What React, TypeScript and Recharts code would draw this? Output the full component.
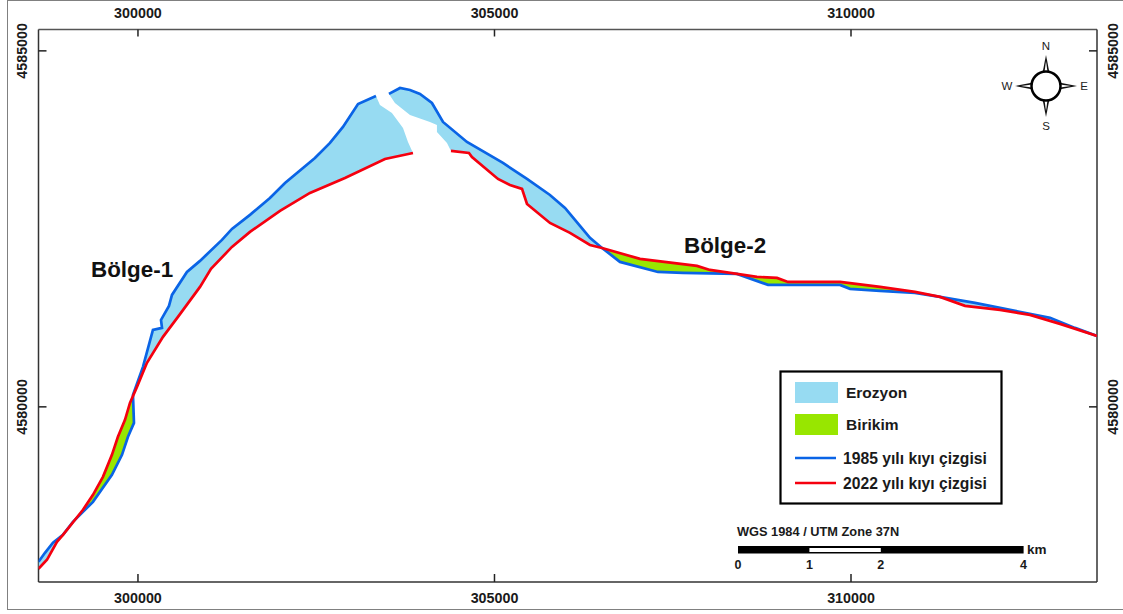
import React from 'react';
import { ComposedChart, Scatter, XAxis, YAxis } from 'recharts';

type Pt = [number, number];

const FONT = '"Liberation Sans", Arial, sans-serif';

// UTM coordinates
const xTicks = [300000, 305000, 310000];
const yTicks = [4580000, 4585000];
const xDomain = [298605, 313450];
const yDomain = [4577540, 4585300];

// 1985 shoreline, west part
const blueWest: Pt[] = [
  [298605, 4577824], [298696, 4577950], [298808, 4578091], [298948, 4578203], [299088, 4578385],
  [299369, 4578666], [299635, 4579045], [299776, 4579326], [299860, 4579579], [299944, 4579775],
  [299930, 4580168], [300070, 4580562], [300210, 4581081], [300337, 4581109], [300323, 4581221],
  [300435, 4581418], [300477, 4581572], [300687, 4581895], [300870, 4582050], [301178, 4582345],
  [301318, 4582499], [301571, 4582696], [301851, 4582934], [302062, 4583145], [302482, 4583496],
  [302693, 4583707], [302875, 4583931], [303086, 4584254], [303338, 4584366],
];

// 1985 shoreline, east part
const blueEast: Pt[] = [
  [303520, 4584395], [303675, 4584479], [303815, 4584451], [303955, 4584395], [304123, 4584268],
  [304278, 4584001], [304614, 4583721], [305119, 4583426], [305456, 4583201], [305778, 4582976],
  [305989, 4582794], [306199, 4582541], [306339, 4582373], [306508, 4582232], [306760, 4582036],
  [307293, 4581895], [307644, 4581881], [308401, 4581867], [308836, 4581713], [309846, 4581713],
  [309986, 4581657], [310407, 4581629], [310897, 4581601], [311248, 4581544], [311739, 4581460],
  [312230, 4581362], [312791, 4581250], [313141, 4581109], [313450, 4580997],
];

// 2022 shoreline, west part
const redWest: Pt[] = [
  [298605, 4577726], [298724, 4577852], [298864, 4578105], [298948, 4578203], [299229, 4578554],
  [299369, 4578764], [299509, 4579017], [299635, 4579326], [299719, 4579579], [299818, 4579817],
  [299888, 4580056], [299986, 4580281], [300126, 4580618], [300351, 4580983], [300561, 4581264],
  [300870, 4581685], [301024, 4581938], [301318, 4582246], [301571, 4582457], [301992, 4582752],
  [302412, 4583005], [302903, 4583215], [303464, 4583482], [303857, 4583566],
];

// 2022 shoreline, east part
const redEast: Pt[] = [
  [304390, 4583594], [304642, 4583566], [304684, 4583510], [305049, 4583201], [305217, 4583117],
  [305386, 4583061], [305456, 4582850], [305778, 4582583], [306059, 4582443], [306339, 4582274],
  [306508, 4582232], [307041, 4582078], [307840, 4581980], [308022, 4581923], [308401, 4581867],
  [308681, 4581825], [308962, 4581811], [309116, 4581755], [309846, 4581755], [310407, 4581685],
  [310897, 4581615], [311248, 4581544], [311599, 4581418], [312090, 4581362], [312510, 4581292],
  [312931, 4581165], [313450, 4580997],
];

// edges of the white gap at the cape
const gapWest: Pt[] = [[303394, 4584240], [303562, 4584128], [303717, 4583917], [303787, 4583721]];
const gapEast: Pt[] = [
  [303604, 4584268], [303815, 4584100], [304095, 4584001], [304193, 4583959], [304193, 4583861], [304334, 4583707],
];

const rev = (a: Pt[]) => [...a].reverse();

const erosionAreas: Pt[][] = [
  [...blueWest.slice(0, 4), ...rev(redWest.slice(0, 4))],
  [...blueWest.slice(10), ...gapWest, ...rev(redWest.slice(11))],
  [...blueEast.slice(0, 14), ...rev(redEast.slice(0, 11)), ...rev(gapEast)],
  [...blueEast.slice(23), ...rev(redEast.slice(21))],
];
const depositAreas: Pt[][] = [
  [...blueWest.slice(3, 11), ...rev(redWest.slice(3, 11))],
  [...blueEast.slice(13, 18), ...rev(redEast.slice(10, 15))],
  [...blueEast.slice(17, 24), ...rev(redEast.slice(14, 22))],
];

const toRows = (a: Pt[]) => a.map(([x, y]) => ({ x, y }));

const EROSION = '#97dbf2';
const DEPOSIT = '#98e600';
const BLUE = '#0a64e6';
const RED = '#f5000f';

const areaLegend = [
  { label: 'Erozyon', fill: EROSION },
  { label: 'Birikim', fill: DEPOSIT },
];
const lineLegend = [
  { label: '1985 yılı kıyı çizgisi', stroke: BLUE },
  { label: '2022 yılı kıyı çizgisi', stroke: RED },
];
const scaleKm = [0, 1, 2, 4];

const polygonLine = (fill: string) => (p: any) => (
  <polygon
    points={p.points.map((q: any) => `${q.x},${q.y}`).join(' ')}
    fill={fill}
    stroke="none"
  />
);

const noDot = () => <g />;

const tickStyle = { fontFamily: FONT, fontSize: 14.3, fontWeight: 700, fill: '#1a1a1a' };

function TopTick({ x, y, payload }: any) {
  return (
    <g>
      <line x1={x} x2={x} y1={y} y2={y + 7} stroke="#222" strokeWidth={1.5} />
      <text x={x} y={y - 12} textAnchor="middle" style={tickStyle}>{payload.value}</text>
    </g>
  );
}
function BottomTick({ x, y, payload }: any) {
  return (
    <g>
      <line x1={x} x2={x} y1={y} y2={y - 8} stroke="#222" strokeWidth={1.5} />
      <text x={x} y={y + 21} textAnchor="middle" style={tickStyle}>{payload.value}</text>
    </g>
  );
}
function LeftTick({ x, y, payload }: any) {
  return (
    <g>
      <line x1={x} x2={x + 8} y1={y} y2={y} stroke="#222" strokeWidth={1.5} />
      <text transform={`translate(${x - 12},${y}) rotate(-90)`} textAnchor="middle" style={tickStyle}>{payload.value}</text>
    </g>
  );
}
function RightTick({ x, y, payload }: any) {
  return (
    <g>
      <line x1={x} x2={x - 8} y1={y} y2={y} stroke="#222" strokeWidth={1.5} />
      <text transform={`translate(${x + 21},${y}) rotate(-90)`} textAnchor="middle" style={tickStyle}>{payload.value}</text>
    </g>
  );
}

function Compass() {
  const cx = 1046;
  const cy = 86;
  const spike = (a: number) => {
    return (
      <g key={a} transform={`rotate(${a} ${cx} ${cy})`}>
        <polygon points={`${cx},${cy - 31} ${cx - 3.5},${cy - 13} ${cx + 3.5},${cy - 13}`} fill="#111" />
        <polygon points={`${cx},${cy - 25} ${cx - 1.5},${cy - 14} ${cx + 1.5},${cy - 14}`} fill="#fff" />
      </g>
    );
  };
  const letter = { fontFamily: FONT, fontSize: 11.5, fill: '#222', textAnchor: 'middle' as const };
  return (
    <g>
      {[0, 90, 180, 270].map(spike)}
      <circle cx={cx} cy={cy} r={14.5} fill="#fff" stroke="#000" strokeWidth={2.5} />
      <text x={cx} y={50} {...letter}>N</text>
      <text x={cx} y={130} {...letter}>S</text>
      <text x={1084} y={90} {...letter}>E</text>
      <text x={1007} y={90} {...letter}>W</text>
    </g>
  );
}

function MapLegend() {
  const text = { fontFamily: FONT, fontWeight: 700, fill: '#1a1a1a' };
  return (
    <g>
      <rect x={780.5} y={371.5} width={221} height={132} fill="#fff" stroke="#000" strokeWidth={2.2} />
      {areaLegend.map((d, i) => (
        <g key={d.label}>
          <rect x={795} y={382 + i * 32} width={43} height={21} fill={d.fill} />
          <text x={846} y={398 + i * 32} fontSize={15.5} {...text}>{d.label}</text>
        </g>
      ))}
      {lineLegend.map((d, i) => (
        <g key={d.label}>
          <line x1={795} x2={836} y1={458 + i * 25} y2={458 + i * 25} stroke={d.stroke} strokeWidth={2.5} />
          <text x={843} y={464 + i * 25} fontSize={15.7} {...text}>{d.label}</text>
        </g>
      ))}
    </g>
  );
}

function ScaleBar() {
  const x0 = 738;
  const perKm = 71.4;
  const text = { fontFamily: FONT, fontWeight: 700, fill: '#1a1a1a' };
  return (
    <g>
      <text x={737} y={536} fontSize={12.8} {...text}>WGS 1984 / UTM Zone 37N</text>
      <rect x={x0} y={546} width={perKm * 4} height={7.5} fill="#000" />
      <rect x={x0 + perKm} y={548} width={perKm} height={4} fill="#fff" />
      {scaleKm.map((k) => (
        <text key={k} x={x0 + k * perKm} y={569} fontSize={12.5} textAnchor="middle" {...text}>{k}</text>
      ))}
      <text x={1027} y={554} fontSize={13.5} {...text}>km</text>
    </g>
  );
}

export default function App() {
  return (
    <div style={{ position: 'absolute', left: 0, top: 0, width: 1123, height: 614, background: '#fff', overflow: 'hidden' }}>
      <div style={{ position: 'absolute', left: 7, top: 0, width: 1116, height: 610, borderTop: '1.5px solid #808080', borderLeft: '1.5px solid #808080', borderBottom: '1.5px solid #808080', boxSizing: 'border-box' }} />
      <ComposedChart
        width={1123}
        height={614}
        margin={{ top: 28.5, right: 25, bottom: 31, left: 37.5 }}
        style={{ position: 'absolute', left: 0, top: 0 }}
      >
        <XAxis xAxisId="b" dataKey="x" type="number" orientation="bottom" domain={xDomain} allowDataOverflow ticks={xTicks} interval={0} height={1} tickSize={0} tickMargin={0} tickLine={false} axisLine={{ stroke: '#333', strokeWidth: 1.5 }} tick={BottomTick} />
        <XAxis xAxisId="t" dataKey="x" type="number" orientation="top" domain={xDomain} allowDataOverflow ticks={xTicks} interval={0} height={1} tickSize={0} tickMargin={0} tickLine={false} axisLine={{ stroke: '#555', strokeWidth: 1.5 }} tick={TopTick} />
        <YAxis yAxisId="l" dataKey="y" type="number" orientation="left" domain={yDomain} allowDataOverflow ticks={yTicks} interval={0} width={1} tickSize={0} tickMargin={0} tickLine={false} axisLine={{ stroke: '#333', strokeWidth: 1.5 }} tick={LeftTick} />
        <YAxis yAxisId="r" dataKey="y" type="number" orientation="right" domain={yDomain} allowDataOverflow ticks={yTicks} interval={0} width={1} tickSize={0} tickMargin={0} tickLine={false} axisLine={{ stroke: '#333', strokeWidth: 1.5 }} tick={RightTick} />

        {erosionAreas.map((a, i) => (
          <Scatter key={`e${i}`} xAxisId="b" yAxisId="l" data={toRows(a)} shape={noDot} line={polygonLine(EROSION)} isAnimationActive={false} />
        ))}
        {depositAreas.map((a, i) => (
          <Scatter key={`d${i}`} xAxisId="b" yAxisId="l" data={toRows(a)} shape={noDot} line={polygonLine(DEPOSIT)} isAnimationActive={false} />
        ))}
        {[blueWest, blueEast].map((a, i) => (
          <Scatter key={`b${i}`} xAxisId="b" yAxisId="l" data={toRows(a)} shape={noDot} line={{ stroke: BLUE, strokeWidth: 2.7 }} isAnimationActive={false} />
        ))}
        {[redWest, redEast].map((a, i) => (
          <Scatter key={`r${i}`} xAxisId="b" yAxisId="l" data={toRows(a)} shape={noDot} line={{ stroke: RED, strokeWidth: 2.7 }} isAnimationActive={false} />
        ))}

        <text x={91} y={276.5} fontFamily={FONT} fontSize={22.4} fontWeight={700} fill="#111">Bölge-1</text>
        <text x={684} y={253} fontFamily={FONT} fontSize={22.4} fontWeight={700} fill="#111">Bölge-2</text>
        <Compass />
        <MapLegend />
        <ScaleBar />
      </ComposedChart>
    </div>
  );
}
